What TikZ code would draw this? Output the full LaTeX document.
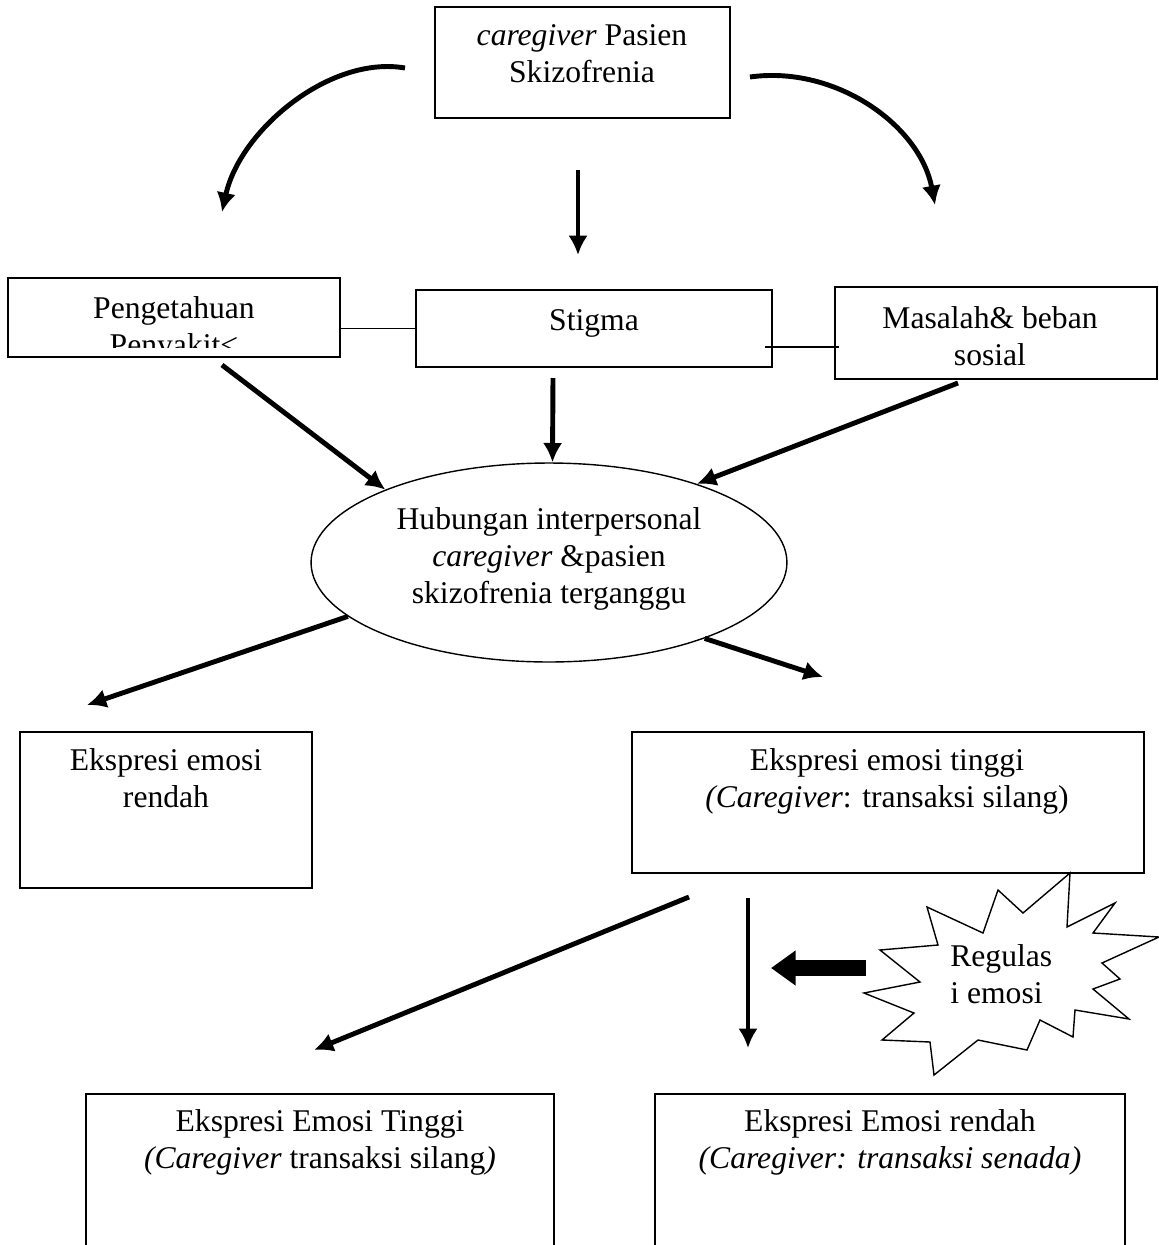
\documentclass[tikz,border=0pt]{standalone}
\usepackage{fontspec}
\setmainfont{Liberation Serif}
\usetikzlibrary{arrows.meta,shapes.geometric,fit}

\tikzset{
  box/.style={draw, line width=0.8pt, inner sep=0pt},
  txt/.style={font=\fontsize{18}{21}\selectfont, align=center, inner sep=0pt, anchor=base},
  arr/.style={line width=2.8pt, -{Latex[length=11pt,width=11pt]}},
  link/.style={line width=0.8pt},
}

\begin{document}
\begin{tikzpicture}[x=0.02cm, y=-0.02cm]
  \useasboundingbox (0,0) rectangle (1159,1245);
  \clip (0,0) rectangle (1159,1245);

  % boxes
  \node[box, fit={(435,7) (730,118)}] (cg) {};
  \node[box, fit={(8,278) (340,357)}] (peng) {};
  \node[box, fit={(416,290) (772,367)}] (stig) {};
  \node[box, fit={(835,287) (1157,379)}] (mas) {};
  \node[draw, line width=0.8pt, ellipse, minimum width=9.52cm, minimum height=3.98cm, inner sep=0pt] (hub) at (549,562.5) {};
  \node[box, fit={(20,732) (312,888)}] (rendah) {};
  \node[box, fit={(632,732) (1144,873)}] (tinggi) {};
  \node[box, fit={(86,1094) (554,1300)}] (bawahkiri) {};
  \node[box, fit={(655,1094) (1125,1300)}] (bawahkanan) {};

  % texts (base = last line)
  \node[txt] (cgtext) at (582,82) {\textit{caregiver} Pasien\\Skizofrenia};
  \begin{scope}
    \clip (8,278) rectangle (340,347);
    \node[txt] (pengtext) at (174,355) {Pengetahuan\\Penyakit\textless};
  \end{scope}
  \node[txt] (stigtext) at (594,330) {Stigma};
  \node[txt] (mastext) at (990,365) {Masalah\& beban\\sosial};
  \node[txt] (hubtext) at (549,603) {Hubungan interpersonal\\\textit{caregiver} \&pasien\\skizofrenia terganggu};
  \node[txt] (rendahtext) at (166,807) {Ekspresi emosi\\rendah};
  \node[txt] (tinggitext) at (887,807) {Ekspresi emosi tinggi\\\textit{(Caregiver}: transaksi silang)};
  \node[txt] (kiritext) at (320,1168) {Ekspresi Emosi Tinggi\\\textit{(Caregiver} transaksi silang\textit{)}};
  \node[txt] (kanantext) at (890,1168) {Ekspresi Emosi rendah\\\textit{(Caregiver: transaksi senada)}};

  % regulasi emosi
  \draw[link, line join=miter] (1070,873) -- (1067,927) -- (1115,903) -- (1093,933) -- (1159,937)
    -- (1102,963) -- (1120,979) -- (1093,989) -- (1129,1019) -- (1075,1010) -- (1073,1037)
    -- (1040,1020) -- (1027,1050) -- (978,1040) -- (934,1075) -- (930,1042) -- (882,1040)
    -- (914,1013) -- (864,993) -- (920,982) -- (880,950) -- (938,945) -- (927,907)
    -- (983,933) -- (998,890) -- (1023,913) -- cycle;
  \node[txt, align=left, anchor=base west] (regtext) at (950,1003) {Regulas\\i emosi};

  % free ends
  \coordinate (c1) at (405,68);
  \coordinate (c2) at (222,212);
  \coordinate (c3) at (750,77);
  \coordinate (c4) at (935,205);
  \coordinate (m1) at (578,170);
  \coordinate (m2) at (578,255);
  \coordinate (p1) at (222,365);
  \coordinate (s1) at (553,378);
  \coordinate (q1) at (958,383);
  \coordinate (r1) at (87,705);
  \coordinate (t1) at (823,677);
  \coordinate (sm1) at (765,347);
  \coordinate (sm2) at (839,347);
  \coordinate (d1) at (689,897);
  \coordinate (d2) at (314,1050);
  \coordinate (e1) at (748,898);
  \coordinate (e2) at (748,1048);
  \coordinate (g1) at (866,968);
  \coordinate (g2) at (771,968);

  % connectors
  \draw[arr] (c1) .. controls (330,55) and (240,130) .. (c2);
  \draw[arr] (c3) .. controls (835,65) and (920,125) .. (c4);
  \draw[arr] (m1) -- (m2);
  \draw[link] (stig.west) -- (stig.west -| peng.east);
  \draw[link] (sm1) -- (sm2);
  \draw[arr] (p1) -- (hub.156);
  \draw[arr] (s1) -- (hub.88);
  \draw[arr] (q1) -- (hub.28);
  \draw[arr] (hub.195) -- (r1);
  \draw[arr] (hub.334) -- (t1);
  \draw[arr] (d1) -- (d2);
  \draw[arr] (e1) -- (e2);
  \draw[line width=9pt, -{Triangle[length=14pt,width=19pt]}] (g1) -- (g2);
\end{tikzpicture}
\end{document}
